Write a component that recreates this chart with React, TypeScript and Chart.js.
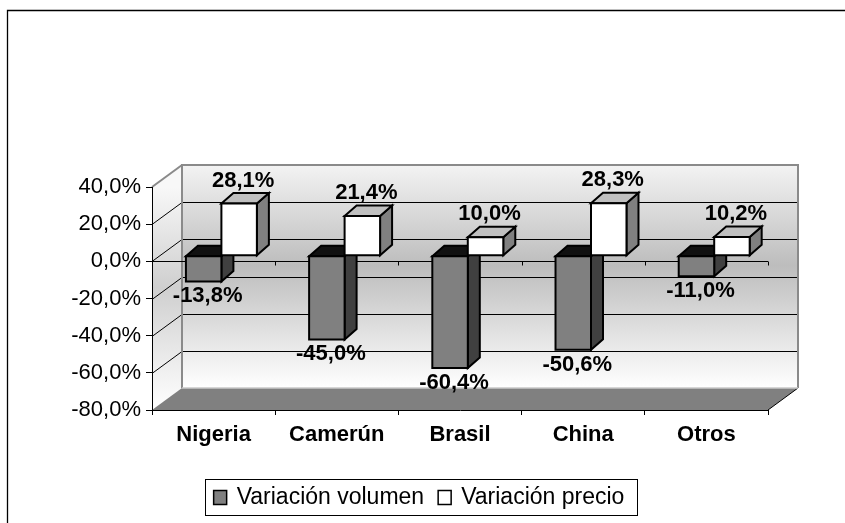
import React, { useEffect, useRef } from "react";
import { Chart, registerables } from "chart.js";

Chart.register(...registerables);

const categories = ["Nigeria", "Camerún", "Brasil", "China", "Otros"];
const volumen = [-13.8, -45.0, -60.4, -50.6, -11.0];
const precio = [28.1, 21.4, 10.0, 28.3, 10.2];
const seriesNames = ["Variación volumen", "Variación precio"];
const yMin = -80;
const yMax = 40;
const yStep = 20;

const fmt = (v: number) => v.toFixed(1).replace(".", ",") + "%";

const FONT = "'Liberation Sans', Arial, Helvetica, sans-serif";
const WALL_DX = 30;
const WALL_DY = -22;
const BAR_DX = 7.8;
const BAR_DY = -5.5;
const BAR_DEPTH_X = 12;
const BAR_DEPTH_Y = -10.5;

const faceColors = [
  { front: "#808080", top: "#111111", side: "#404040" },
  { front: "#ffffff", top: "#c0c0c0", side: "#808080" },
];

const poly = (ctx: CanvasRenderingContext2D, pts: number[][]) => {
  ctx.beginPath();
  ctx.moveTo(pts[0][0], pts[0][1]);
  for (let i = 1; i < pts.length; i++) ctx.lineTo(pts[i][0], pts[i][1]);
  ctx.closePath();
};

const threeD = {
  id: "threeD",
  beforeDraw(chart: any) {
    const ctx: CanvasRenderingContext2D = chart.ctx;
    const a = chart.chartArea;
    const ys = chart.scales.y;
    ctx.save();
    ctx.fillStyle = "#ffffff";
    ctx.fillRect(0, 0, chart.width, chart.height);

    // outer frame
    ctx.strokeStyle = "#000";
    ctx.lineWidth = 1.3;
    ctx.beginPath();
    ctx.moveTo(7.5, chart.height);
    ctx.lineTo(7.5, 10.5);
    ctx.lineTo(chart.width, 10.5);
    ctx.stroke();

    const L = a.left, R = a.right, T = a.top, B = a.bottom;
    // back wall
    const g = ctx.createLinearGradient(0, T + WALL_DY, 0, B + WALL_DY);
    g.addColorStop(0, "#f3f3f3");
    g.addColorStop(0.45, "#bdbdbd");
    g.addColorStop(1, "#ffffff");
    ctx.fillStyle = g;
    ctx.fillRect(L + WALL_DX, T + WALL_DY, R - L, B - T);
    // side wall
    const g2 = ctx.createLinearGradient(0, T, 0, B);
    g2.addColorStop(0, "#f8f8f8");
    g2.addColorStop(0.45, "#cfcfcf");
    g2.addColorStop(1, "#ffffff");
    ctx.fillStyle = g2;
    poly(ctx, [[L, T], [L + WALL_DX, T + WALL_DY], [L + WALL_DX, B + WALL_DY], [L, B]]);
    ctx.fill();

    // gridlines
    ctx.strokeStyle = "#000";
    ctx.lineWidth = 1;
    for (let v = yMin + yStep; v < yMax; v += yStep) {
      const y = Math.round(ys.getPixelForValue(v)) + 0.5;
      ctx.beginPath();
      ctx.moveTo(L, y);
      ctx.lineTo(L + WALL_DX, y + WALL_DY);
      ctx.lineTo(R + WALL_DX, y + WALL_DY);
      ctx.stroke();
    }

    // floor
    ctx.fillStyle = "#808080";
    poly(ctx, [[L, B], [R, B], [R + WALL_DX, B + WALL_DY], [L + WALL_DX, B + WALL_DY]]);
    ctx.fill();
    ctx.strokeStyle = "#000";
    ctx.lineWidth = 1;
    ctx.beginPath();
    ctx.moveTo(R, B);
    ctx.lineTo(R + WALL_DX, B + WALL_DY);
    ctx.stroke();

    // wall borders
    ctx.strokeStyle = "#8a8a8a";
    ctx.lineWidth = 2;
    ctx.beginPath();
    ctx.moveTo(L + WALL_DX, B + WALL_DY);
    ctx.lineTo(L + WALL_DX, T + WALL_DY);
    ctx.lineTo(R + WALL_DX, T + WALL_DY);
    ctx.lineTo(R + WALL_DX, B + WALL_DY);
    ctx.stroke();
    ctx.beginPath();
    ctx.moveTo(L, T);
    ctx.lineTo(L + WALL_DX, T + WALL_DY);
    ctx.stroke();
    ctx.strokeStyle = "#c8c8c8";
    ctx.lineWidth = 1.5;
    ctx.beginPath();
    ctx.moveTo(L + WALL_DX, B + WALL_DY);
    ctx.lineTo(R + WALL_DX, B + WALL_DY);
    ctx.stroke();

    // category axis at zero (front plane)
    const y0 = Math.round(ys.getPixelForValue(0)) + 0.5;
    ctx.strokeStyle = "#000";
    ctx.lineWidth = 1;
    ctx.beginPath();
    ctx.moveTo(L, y0);
    ctx.lineTo(R, y0);
    const n = categories.length;
    for (let i = 0; i <= n; i++) {
      const x = Math.round(L + ((R - L) * i) / n) + 0.5;
      ctx.moveTo(x, y0);
      ctx.lineTo(x, y0 + 4);
    }
    ctx.stroke();
    ctx.restore();
  },
  beforeDatasetsDraw(chart: any) {
    const ctx: CanvasRenderingContext2D = chart.ctx;
    ctx.save();
    ctx.lineWidth = 2;
    ctx.strokeStyle = "#000";
    ctx.lineJoin = "miter";
    for (let i = 0; i < categories.length; i++) {
      for (let d = 0; d < chart.data.datasets.length; d++) {
        const el = chart.getDatasetMeta(d).data[i];
        const w = el.width;
        const l = el.x - w / 2 + BAR_DX;
        const r = el.x + w / 2 + BAR_DX;
        const t = Math.min(el.y, el.base) + BAR_DY;
        const b = Math.max(el.y, el.base) + BAR_DY;
        const c = faceColors[d];
        // side
        poly(ctx, [[r, t], [r + BAR_DEPTH_X, t + BAR_DEPTH_Y], [r + BAR_DEPTH_X, b + BAR_DEPTH_Y], [r, b]]);
        ctx.fillStyle = c.side;
        ctx.fill();
        ctx.stroke();
        // top
        poly(ctx, [[l, t], [r, t], [r + BAR_DEPTH_X, t + BAR_DEPTH_Y], [l + BAR_DEPTH_X, t + BAR_DEPTH_Y]]);
        ctx.fillStyle = c.top;
        ctx.fill();
        ctx.stroke();
        // front
        ctx.beginPath();
        ctx.rect(l, t, r - l, b - t);
        ctx.fillStyle = c.front;
        ctx.fill();
        ctx.stroke();
      }
    }
    ctx.restore();
    return false;
  },
  afterDraw(chart: any) {
    const ctx: CanvasRenderingContext2D = chart.ctx;
    ctx.save();
    // data labels
    ctx.font = `bold 22px ${FONT}`;
    ctx.fillStyle = "#000";
    ctx.textAlign = "center";
    ctx.textBaseline = "alphabetic";
    for (let d = 0; d < chart.data.datasets.length; d++) {
      const ds = chart.data.datasets[d];
      const meta = chart.getDatasetMeta(d);
      for (let i = 0; i < ds.data.length; i++) {
        const el = meta.data[i];
        const v = ds.data[i];
        const cx = el.x + BAR_DX + 4;
        const t = Math.min(el.y, el.base) + BAR_DY;
        const b = Math.max(el.y, el.base) + BAR_DY;
        const y = v >= 0 ? t - 17 : b + 21;
        ctx.fillText(fmt(v), cx, y);
      }
    }

    // legend
    ctx.font = `23px ${FONT}`;
    const w1 = ctx.measureText(seriesNames[0]).width;
    const w2 = ctx.measureText(seriesNames[1]).width;
    const box = 13, gap = 10, between = 14;
    const total = box + gap + w1 + between + box + gap + w2;
    const cx = 419;
    const sx = cx - total / 2;
    const fy = 479.5, fh = 36;
    ctx.fillStyle = "#fff";
    ctx.fillRect(sx - 9, fy, total + 21, fh);
    ctx.strokeStyle = "#000";
    ctx.lineWidth = 1;
    ctx.strokeRect(Math.round(sx - 9) + 0.5, fy, Math.round(total + 21), fh);
    let x = sx;
    const my = 497.5;
    for (let d = 0; d < 2; d++) {
      ctx.fillStyle = faceColors[d].front;
      ctx.fillRect(x, my - 7, box, box + 1);
      ctx.lineWidth = 1.5;
      ctx.strokeRect(x, my - 7, box, box + 1);
      ctx.fillStyle = "#000";
      ctx.textAlign = "left";
      ctx.textBaseline = "middle";
      ctx.fillText(seriesNames[d], x + box + gap, my);
      x += box + gap + (d === 0 ? w1 : w2) + between;
    }
    ctx.restore();
  },
};

export default function App() {
  const ref = useRef<HTMLCanvasElement | null>(null);
  useEffect(() => {
    document.body.style.margin = "0";
    document.body.style.overflow = "hidden";
    const canvas = ref.current;
    if (!canvas) return;
    const chart = new Chart(canvas, {
      type: "bar",
      data: {
        labels: categories,
        datasets: [
          { label: seriesNames[0], data: volumen, backgroundColor: faceColors[0].front },
          { label: seriesNames[1], data: precio, backgroundColor: faceColors[1].front },
        ],
      },
      options: {
        responsive: false,
        animation: false,
        devicePixelRatio: 1,
        layout: { padding: { left: 0, top: 187, right: 77, bottom: 0 } },
        datasets: { bar: { categoryPercentage: 0.576, barPercentage: 1 } },
        plugins: { legend: { display: false }, tooltip: { enabled: false } },
        scales: {
          x: {
            type: "category",
            grid: { display: true, drawOnChartArea: false, drawTicks: true, tickLength: 5, color: "#000", offset: true },
            border: { display: true, color: "#000", width: 1 },
            ticks: { font: { family: FONT, size: 22, weight: "bold" }, color: "#000", padding: 7, maxRotation: 0, autoSkip: false },
            afterFit: (s: any) => { s.height = 113; },
          },
          y: {
            min: yMin,
            max: yMax,
            grid: { display: true, drawOnChartArea: false, drawTicks: true, tickLength: 6, color: "#000" },
            border: { display: true, color: "#000", width: 1 },
            ticks: { stepSize: yStep, font: { family: FONT, size: 22 }, color: "#000", padding: 5, callback: (v: any) => fmt(Number(v)) },
            afterFit: (s: any) => { s.width = 152; },
          },
        },
      } as any,
      plugins: [threeD],
    });
    return () => chart.destroy();
  }, []);
  return <canvas ref={ref} width={845} height={523} style={{ display: "block" }} />;
}
